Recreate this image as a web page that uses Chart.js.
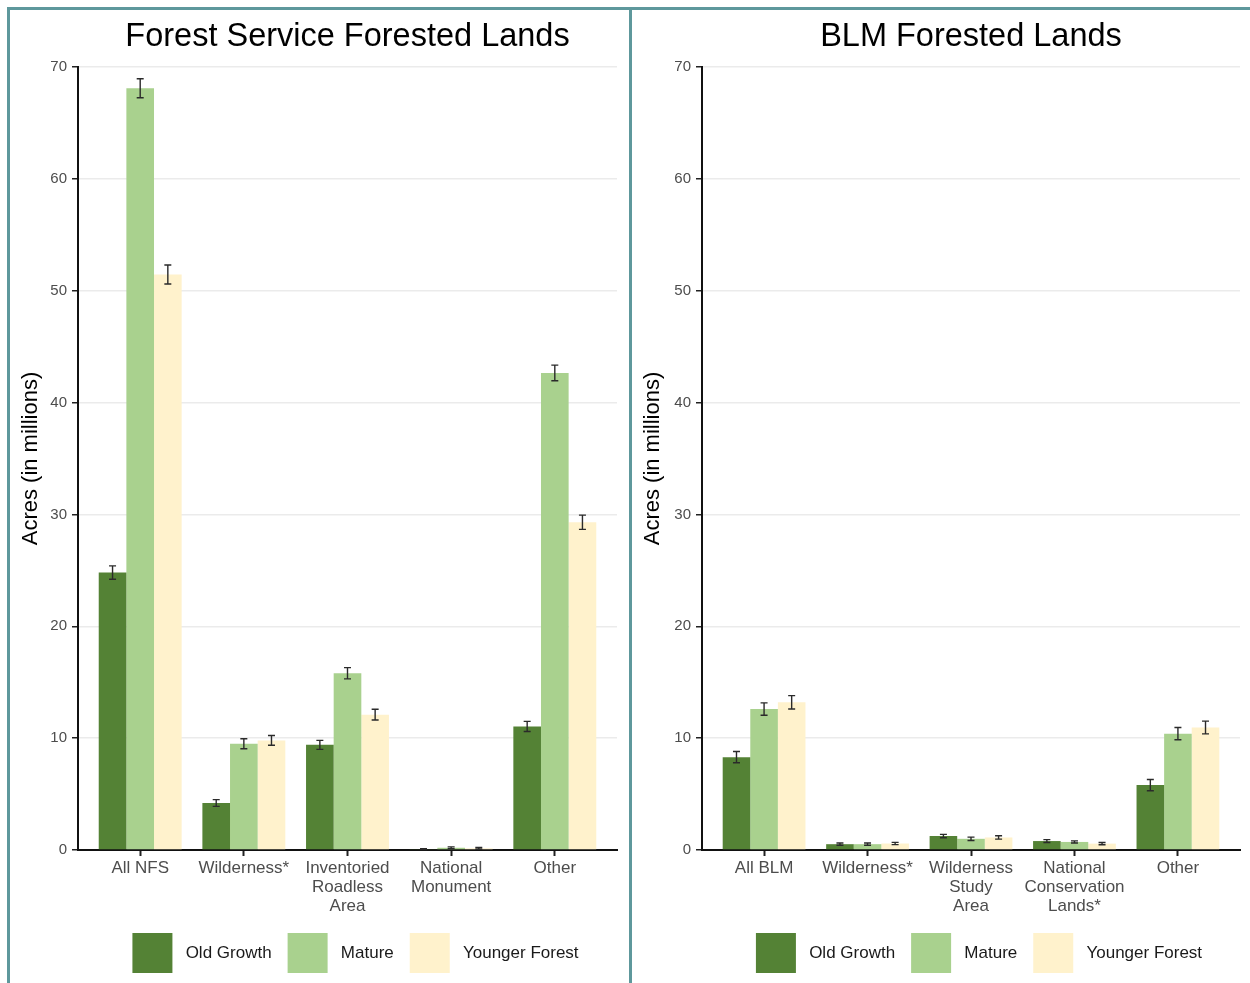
<!DOCTYPE html>
<html>
<head>
<meta charset="utf-8">
<script src="https://cdn.jsdelivr.net/npm/chart.js@4/dist/chart.umd.min.js"></script>
<style>
  html, body { margin: 0; padding: 0; background: #fff; width: 1250px; height: 983px; overflow: hidden; }
  .panel { position: absolute; top: 7px; height: 1000px; border: 3px solid #5e989c; box-sizing: border-box; background: #fff; }
  #p1 { left: 7px; width: 625px; }
  #p2 { left: 629px; width: 640px; }
  canvas { display: block; }
</style>
</head>
<body>
<div class="panel" id="p1"><canvas id="c1" width="619" height="980"></canvas></div>
<div class="panel" id="p2"><canvas id="c2" width="620" height="980"></canvas></div>
<script>
// ---------- DATA ----------
const seriesNames = ['Old Growth', 'Mature', 'Younger Forest'];
const seriesColors = ['#548235', '#a9d18e', '#fff2cc'];

const fsCategories = [['All NFS'], ['Wilderness*'], ['Inventoried', 'Roadless', 'Area'], ['National', 'Monument'], ['Other']];
const fsOldGrowth = [24.8, 4.2, 9.4, 0.08, 11.05];
const fsMature = [68.1, 9.5, 15.8, 0.2, 42.65];
const fsYounger = [51.45, 9.8, 12.1, 0.15, 29.3];
const fsOldGrowthErr = [0.6, 0.3, 0.4, 0.04, 0.45];
const fsMatureErr = [0.85, 0.45, 0.5, 0.08, 0.7];
const fsYoungerErr = [0.85, 0.43, 0.48, 0.08, 0.64];

const blmCategories = [['All BLM'], ['Wilderness*'], ['Wilderness', 'Study', 'Area'], ['National', 'Conservation', 'Lands*'], ['Other']];
const blmOldGrowth = [8.3, 0.52, 1.25, 0.8, 5.8];
const blmMature = [12.6, 0.52, 1.0, 0.72, 10.4];
const blmYounger = [13.2, 0.58, 1.12, 0.57, 10.95];
const blmOldGrowthErr = [0.5, 0.1, 0.15, 0.13, 0.5];
const blmMatureErr = [0.55, 0.1, 0.15, 0.1, 0.55];
const blmYoungerErr = [0.6, 0.1, 0.15, 0.1, 0.57];

const yTicks = [0, 10, 20, 30, 40, 50, 60, 70];

// ---------- PLUGIN: error bars drawn via library scales ----------
const errorBarPlugin = {
  id: 'errorBars',
  afterDatasetsDraw(chart) {
    const ctx = chart.ctx;
    const ys = chart.scales.y;
    chart.data.datasets.forEach((ds, di) => {
      const meta = chart.getDatasetMeta(di);
      meta.data.forEach((bar, i) => {
        const v = ds.data[i].y, e = ds.errors[i];
        const yt = ys.getPixelForValue(v + e);
        const yb = ys.getPixelForValue(Math.max(0, v - e));
        const x = bar.x, w = 3.5;
        ctx.save();
        ctx.strokeStyle = '#2a2a2a';
        ctx.lineWidth = 1.4;
        ctx.beginPath();
        ctx.moveTo(x, yt); ctx.lineTo(x, yb);
        ctx.moveTo(x - w, yt); ctx.lineTo(x + w, yt);
        ctx.moveTo(x - w, yb); ctx.lineTo(x + w, yb);
        ctx.stroke();
        ctx.restore();
      });
    });
  }
};

// shift the legend slightly right, as in the reference
const legendShiftPlugin = {
  id: 'legendShift',
  afterLayout(chart) {
    const lg = chart.legend;
    if (lg) { lg.left += 8; lg.right += 8; }
  }
};

const FONT = '"Liberation Sans", Arial, Helvetica, sans-serif';

function makeChart(canvasId, title, cats, vals, errs, yWidth, padRight) {
  const datasets = seriesNames.map((name, s) => ({
    label: name,
    data: vals[s].map((v, i) => ({ x: i, y: v })),
    errors: errs[s],
    backgroundColor: seriesColors[s],
    borderWidth: 0,
    categoryPercentage: 0.8,
    barPercentage: 1.0
  }));
  return new Chart(document.getElementById(canvasId), {
    type: 'bar',
    data: { datasets },
    plugins: [errorBarPlugin, legendShiftPlugin],
    options: {
      responsive: false,
      animation: false,
      devicePixelRatio: 1,
      layout: { padding: { left: 0, right: padRight, top: 0, bottom: 7 } },
      plugins: {
        title: {
          display: true, text: title, color: '#000', fullSize: false,
          font: { family: FONT, size: 32.5, weight: 'normal', lineHeight: 1.2 },
          padding: { top: 8, bottom: 10 }
        },
        legend: {
          display: true, position: 'bottom', fullSize: false,
          labels: {
            boxWidth: 40, boxHeight: 40, padding: 16, color: '#1a1a1a',
            font: { family: FONT, size: 17 },
            generateLabels: (chart) => {
              const items = Chart.defaults.plugins.legend.labels.generateLabels(chart);
              items.forEach(it => { it.text = ' ' + it.text; it.lineWidth = 0; });
              return items;
            }
          }
        },
        tooltip: { enabled: false }
      },
      scales: {
        x: {
          type: 'linear', min: -0.6, max: 4.6, z: 1, offset: false,
          afterBuildTicks: (axis) => { axis.ticks = cats.map((c, i) => ({ value: i })); },
          afterFit: (scale) => { scale.height = 67; },
          grid: { display: true, offset: false, drawOnChartArea: false, drawTicks: true, tickLength: 6, tickColor: '#222', tickWidth: 2 },
          border: { display: true, color: '#111', width: 2 },
          ticks: {
            autoSkip: false, maxRotation: 0, padding: 3, color: '#4d4d4d',
            font: { family: FONT, size: 17, lineHeight: 1.12 },
            callback: (v) => cats[v]
          }
        },
        y: {
          min: 0, max: 70,
          afterBuildTicks: (axis) => { axis.ticks = yTicks.map(v => ({ value: v })); },
          afterFit: (scale) => { scale.width = yWidth; },
          grid: {
            color: (c) => c.tick && c.tick.value === 0 ? 'rgba(0,0,0,0)' : '#ebebeb',
            lineWidth: 1.5, tickLength: 6, tickColor: '#222', tickWidth: 1.5
          },
          border: { display: true, color: '#111', width: 2 },
          ticks: { padding: 5, color: '#4d4d4d', font: { family: FONT, size: 15 } },
          title: {
            display: true, text: 'Acres (in millions)', color: '#000',
            font: { family: FONT, size: 22 }, padding: { top: 8, bottom: 0 }
          }
        }
      }
    }
  });
}

makeChart('c1', 'Forest Service Forested Lands', fsCategories,
  [fsOldGrowth, fsMature, fsYounger], [fsOldGrowthErr, fsMatureErr, fsYoungerErr], 68, 12);
makeChart('c2', 'BLM Forested Lands', blmCategories,
  [blmOldGrowth, blmMature, blmYounger], [blmOldGrowthErr, blmMatureErr, blmYoungerErr], 70, 12);
</script>
</body>
</html>
